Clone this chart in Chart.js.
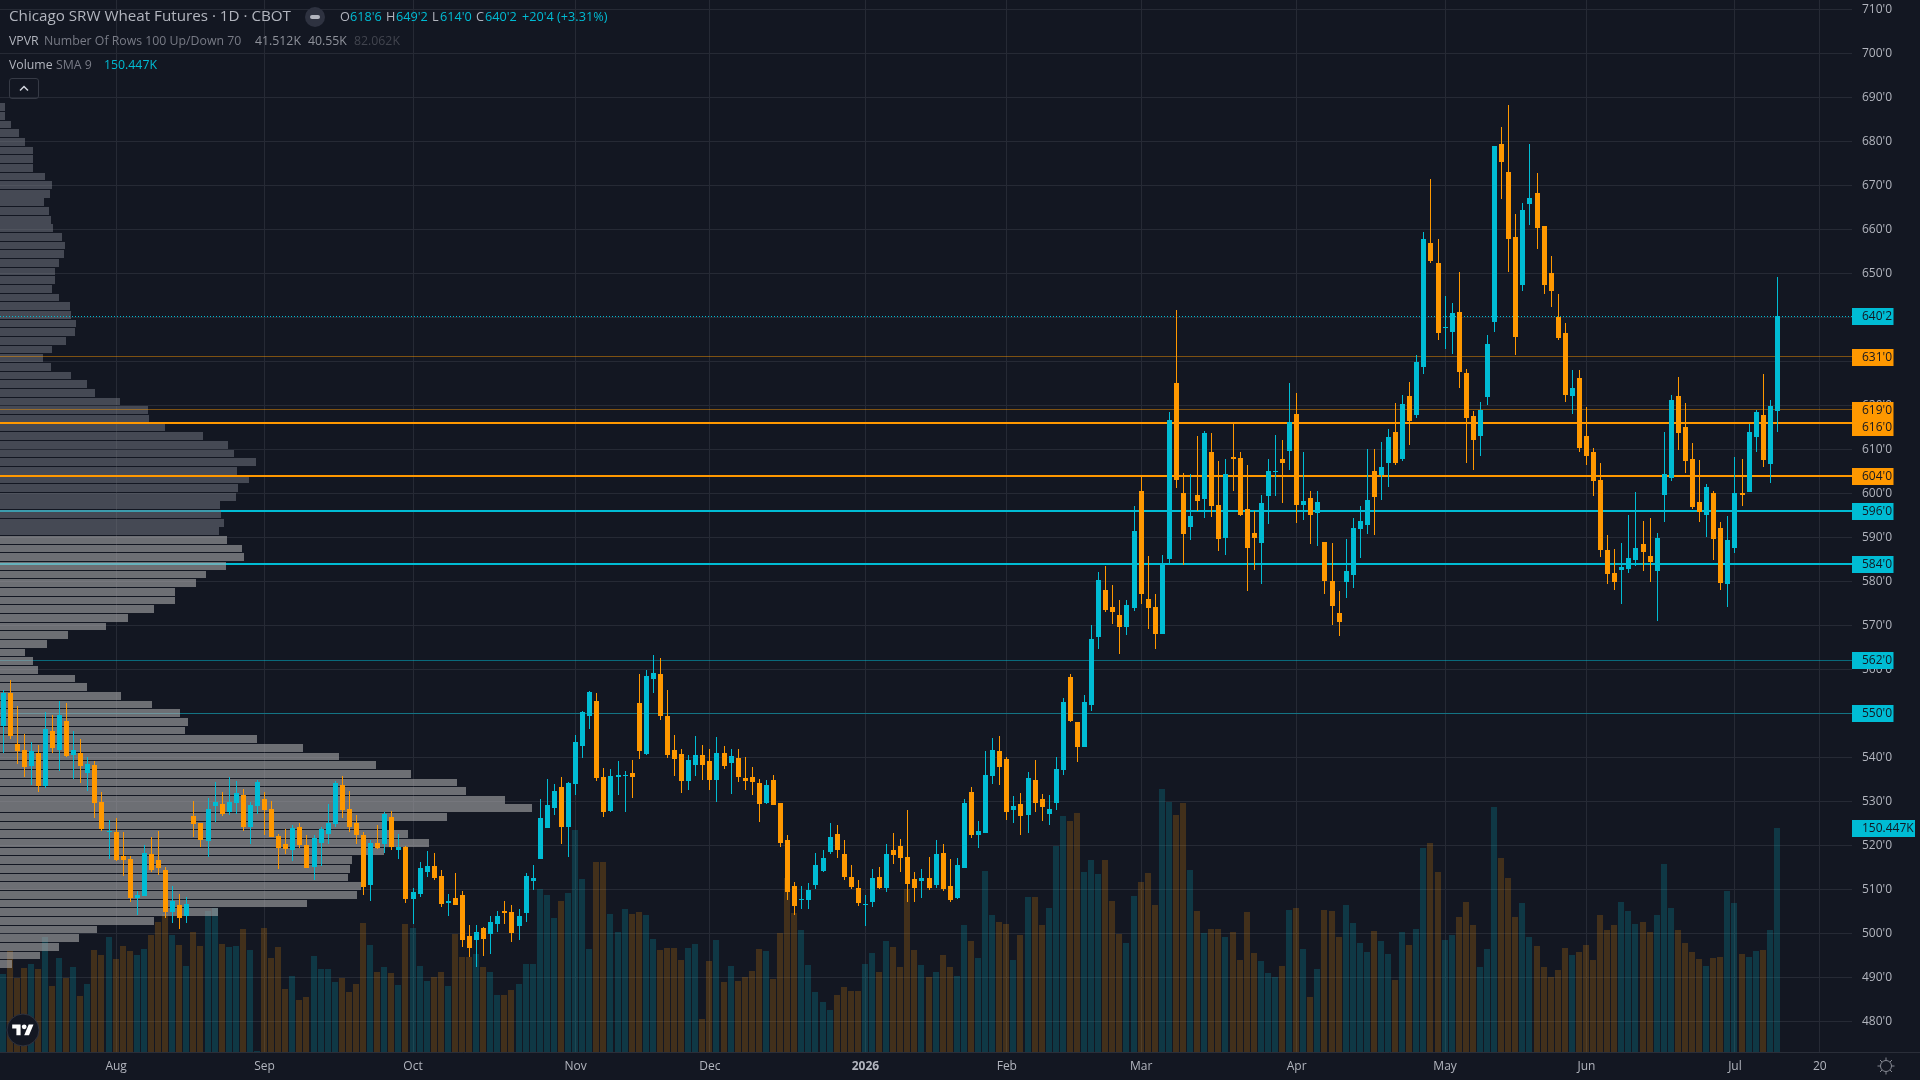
<!DOCTYPE html>
<html>
<head>
<meta charset="utf-8">
<title>Chicago SRW Wheat Futures</title>
<script src="https://cdn.jsdelivr.net/npm/chart.js@4"></script>
<style>
html, body { margin: 0; padding: 0; width: 1920px; height: 1080px; overflow: hidden; background: #131722; }
canvas { position: absolute; left: 0; top: 0; }
#legend span { position: absolute; white-space: nowrap; line-height: 18px; font-family: "Open Sans", sans-serif; }
.r1 { top: 7px; font-size: 12.7px; }
.r2 { top: 32px; font-size: 12.3px; }
.r3 { top: 56px; font-size: 12.3px; }
.lab { color: #b2b5be; }
.dim { color: #787b86; }
.val { color: #00bcd4; }
.num { color: #8f929b; }
.off { color: #42454f; }
#btn { position: absolute; left: 9px; top: 78px; width: 28px; height: 19px; border: 1px solid #363a45; border-radius: 3px; }
#badge { position: absolute; left: 305px; top: 7px; width: 20px; height: 20px; border-radius: 50%; background: #2e3240; }
#badge i { position: absolute; left: 5px; top: 8px; width: 10px; height: 4px; border-radius: 2px; background: #b2b5be; }
svg { position: absolute; }
</style>
</head>
<body>
<canvas id="wheatChart" width="1920" height="1080"></canvas>

<div id="legend">
  <span class="r1 lab" style="left:9px;font-size:15.2px;top:6px">Chicago SRW Wheat Futures · 1D · CBOT</span>
  <div id="badge"><i></i></div>
  <span class="r1 lab" style="left:340px">O</span><span class="r1 val" style="left:350px">618'6</span>
  <span class="r1 lab" style="left:386px">H</span><span class="r1 val" style="left:396px">649'2</span>
  <span class="r1 lab" style="left:432px">L</span><span class="r1 val" style="left:440px">614'0</span>
  <span class="r1 lab" style="left:476px">C</span><span class="r1 val" style="left:485px">640'2</span>
  <span class="r1 val" style="left:522px">+20'4 (+3.31%)</span>
  <span class="r2 lab" style="left:9px">VPVR</span>
  <span class="r2 dim" style="left:44px">Number Of Rows 100 Up/Down 70</span>
  <span class="r2 num" style="left:255px">41.512K</span>
  <span class="r2 num" style="left:308px">40.55K</span>
  <span class="r2 off" style="left:354px">82.062K</span>
  <span class="r3 lab" style="left:9px">Volume</span>
  <span class="r3 dim" style="left:56px">SMA 9</span>
  <span class="r3 val" style="left:104px">150.447K</span>
  <div id="btn"><svg width="28" height="19" viewBox="0 0 28 19"><path d="M10 11.5l4-4 4 4" fill="none" stroke="#d1d4dc" stroke-width="1.5"/></svg></div>
</div>

<svg style="left:6px;top:1013px" width="34" height="34" viewBox="0 0 34 34">
  <circle cx="17" cy="17" r="16" fill="#131722" stroke="#2e3240" stroke-width="1"/>
  <g transform="translate(6.2,9) scale(0.6)" fill="#ffffff">
    <path d="M14 22H7V11H0V4h14v18zM28 22h-8l7.5-18h8L28 22z"/>
    <circle cx="20" cy="8" r="4"/>
  </g>
</svg>
<svg style="left:1876px;top:1056px" width="20" height="20" viewBox="0 0 20 20" fill="none" stroke="#868993" stroke-width="1">
  <circle cx="10" cy="10" r="5.5"/>
  <path d="M10 1.5v3M10 15.5v3M1.5 10h3M15.5 10h3M4 4l2 2M14 14l2 2M4 16l2-2M14 6l2-2"/>
</svg>

<script>
// daily bars, oldest first
const opens = [
547,554.6,543,541.6,538,541,533.5,546,541.6,548.2,
540.5,541,536.4,538.2,529.8,523,523,517.6,516.9,508,
508.5,518,516.6,514.4,504.8,506.4,503.9,526.6,525,521,
528.9,529.4,527.6,529.6,531.4,524.1,528.9,530.5,528.2,522.1,
520.3,518.9,524.1,520,515,520.6,522.6,524.9,533.7,528.3,
525,522.4,511,520.5,520.3,526.4,519,519.6,507.8,508.9,
513.9,515.3,513,506.9,508,508.7,499.4,498.5,501.2,499.9,
502.1,505,504.9,501.7,504.6,511.9,516.9,523.9,528.5,533.3,
524.2,533.9,542.6,549.4,552.8,535.5,527.8,535.5,535.8,536.4,
552.4,540.8,557.8,558.9,549.4,541.7,540.8,534.6,538.3,540.5,
539.2,534.9,541,538.7,539.9,535.3,535.5,534.2,529.6,534.9,
529.6,521.2,510.8,507.6,507.6,511,514.2,518.5,522.6,518,
512.8,510.3,506.4,507.1,512.8,510.3,519,519.9,517.4,512.4,
511.9,512.6,511,518.3,510.8,508,514.8,532.1,522.3,522.9,
535.7,541.4,539.6,528,529.4,526.9,534.8,530.5,527.1,529.6,
537.1,558.2,548,542.3,551.9,567.3,578,574.1,572.3,569.6,
573.9,600.5,575.9,574.1,568,585,625,600,592.3,599.6,
598.7,609.4,597.3,589.8,608.2,608,596.4,590.9,588.7,599.4,
604.8,607.8,609.6,618,597.3,598.9,595.5,588.9,580,572.8,
579.8,581.4,591.9,592.8,605.1,604.2,606.9,613.9,607.8,622.1,
617.8,628.7,656.9,652.4,637.6,636.7,641.2,627.4,617.6,613,
621.9,638.9,679.4,673,658.3,647.4,665.8,668.3,660.8,650.1,
640.1,636.4,622.1,626.2,613,609.4,603,587.1,581.9,582.5,
582.8,584.8,588.5,585.7,582.3,599.6,603.5,622.1,615,607.8,
598,595,600,592.1,579.4,587.5,600,600.3,612.8,617.8,
606.6,618.75];

const closes = [
554.6,544.8,541.4,537.8,541.4,533.5,546.4,542.1,549.6,540.3,
541.6,538,538.5,529.6,523.7,523.2,516.6,516.6,508,508.7,
518.2,514.4,514.8,504.8,507.3,503.5,506.6,524.8,521.2,528.2,
529.8,527.1,529.8,531.9,524.1,529.1,534.4,528,521.9,519.4,
519.1,523.9,520,514.8,521.6,523.6,525,534.2,528,524.2,
522.4,510.5,520.5,519.4,527.1,519.6,519.6,507.8,509.4,514.9,
515.3,512.6,506.7,507.4,506.4,498.5,496.7,500.3,498.7,502.6,
503.9,504.6,500.1,503.9,513,512.6,526.2,529.2,532.4,524.2,
534.2,543.5,550.3,554.9,535.3,527.6,535.8,536,536,535.5,
541.4,558.5,559.2,549.4,540.5,539.6,534.6,539.4,540.5,538.3,
534.9,541,538,540.3,535.5,534.6,534.4,529.4,533.7,529.2,
520.5,509.4,506.2,507.8,509.9,515.5,517.1,521.9,519,512.8,
510.5,506.9,506.7,512.6,510.3,518,517.8,517.1,511.2,510.3,
512.6,510.3,518,510.1,507.6,515.5,529.6,522.3,523.2,536,
541.7,537.8,527.6,528.9,526.7,535.3,529.6,528.7,528.2,537.3,
552.6,548.2,542.3,552.6,566.9,580.3,573.4,573,569.6,574.6,
591.4,577.1,573.9,568,583.7,616.6,603,590.7,594.8,598.2,
613.7,597.1,589.6,604.4,607.8,595,587.5,589.8,597.8,605,
605,606.9,616.2,597.3,598.2,595,598,580,574.4,570.7,
582.3,592.1,593.7,598.5,599.1,606,612.8,606.9,620.3,616.4,
629.9,657.8,652.8,636.4,637.8,641,627.6,617.1,612.1,618.9,
633.9,678.9,675.3,657.8,635.5,664.4,667.1,660.3,647.4,646,
635.3,622.4,624,610.3,608.5,602.8,587.1,581.6,579.8,583.2,
585.3,587.5,586.6,584.4,589.8,604.4,621.2,613.7,607.3,596.9,
595.7,601.4,589.6,579.6,589.4,600,599.6,613.9,618.5,607.5,
619.8,640.25];

const highs = [
555.3,557.6,551.6,545.3,543.5,542.8,550.3,549.6,552.8,552.3,
546,544.1,540,539.1,532.1,525.7,526.2,523,517.6,509.6,
520,521.9,523.2,515,510.7,508.9,508.2,530,525,530.7,
534.4,532.1,535.5,534.6,532.8,529.8,534.8,532.1,530.1,522.6,
523.7,524.6,525,522.3,522.3,524.2,529.4,534.6,535.8,532.4,
526.9,523,521.2,524.6,527.6,527.8,522.6,519.9,510.3,516.2,
518.7,518.3,514.4,508.9,513.7,509.6,501.9,501.9,501.4,503.9,
505,507.4,506.4,505.5,513.7,515.5,530.5,535.1,533.9,535.5,
534.4,545.1,550.5,555.1,554.6,537.6,537.4,539.2,536.9,539.4,
558.9,559.9,563.3,562.6,555.3,545.1,541.9,540.5,544.9,542.8,
541.9,544.6,542.6,541.9,541.9,540.1,537.8,535.1,534.9,536,
529.6,522.4,511.7,510.8,511.4,518.3,519,525.1,524.6,521.2,
515.5,512.1,508.7,514.6,515.1,520.3,522.8,521.4,528,513.9,
514.6,517.4,521.2,520.3,516.9,517.1,530.5,533.2,525.5,541.4,
544.4,544.8,540,531.2,531.9,536.7,539.4,531.7,531.4,540.1,
553.5,558.9,548,554.2,570,582.1,583.4,579.1,575.7,575.7,
597.1,603.7,585.7,577.1,585.9,618.4,641.6,604.6,604.4,613,
614.1,613.7,607.3,607.8,615.7,609.4,606.4,595.9,599.6,607.8,
613.2,612.1,625.1,622.8,609.4,600.5,600.5,588.9,588.7,577.8,
589.6,594.4,597.1,610.1,610.1,611.7,614.6,620.5,622.4,625.3,
631.4,659.4,671.4,657.8,644.9,643.3,650.3,628.3,618.7,620.8,
636,678.9,683.3,688.3,663.5,666,679.4,672.8,660.8,653.9,
645.3,638.7,628,628,619.6,610.3,606.9,590.5,587.3,588.7,
595,600.3,593.7,594.4,591,613.9,622.3,626.4,620.5,611.4,
607.5,602.1,600.5,593.5,594.8,608.2,607.8,615.7,618.9,627.1,
621.2,649.25];

const lows = [
541,544.1,538.5,535.5,533.7,532.1,533,541,536.9,540,
535,534.1,532.3,526.2,523.2,516.9,516.4,513,507.1,504.1,
508.5,513.9,513.2,503.5,502.3,501,502.3,521.9,519.6,517.3,
525.3,526.6,526.9,527.1,523.2,520.3,527.1,522.3,521.9,514.6,
518,516.4,519.4,514.8,512.1,515.3,520.3,524.2,526.2,523,
520.3,508.7,507.4,519.2,518.3,519,516.9,506.9,502.1,508.3,
512.8,512.1,506,504,506.4,496.9,494.6,492.4,494.9,495.3,
500.3,502.1,498,498.5,502.6,509.9,516.9,523.9,526.9,520.3,
517.4,531.4,539.9,546.4,534.6,526.4,527.6,531.4,527.6,530.8,
539.6,540.5,554.6,548.5,539.9,535.8,531.9,532.6,535.8,534.9,
532.6,529.9,537.4,531.7,534.4,532.6,531.4,525.3,529.4,529.2,
519.6,507.6,504.2,505.5,505.5,510.1,513.9,518,517.1,512.1,
510.1,506.2,501.7,506,510.1,509.4,515.8,513.9,507.1,507.1,
508,509.9,510.3,509.6,507.1,507.8,514.8,521.6,519.3,522.9,
533.9,533.7,525.7,525,522.3,522.8,527.6,525.5,524.6,528,
536,548,538.9,542.3,550.5,564.6,573,570.3,563.4,567.8,
573.2,574.8,569.1,564.6,568,583.7,601.2,583.7,589.4,595.9,
594.4,594.6,586.9,585.9,600.5,594.8,577.8,582.5,579.4,593,
599.4,597.8,605.3,593.2,593.9,588.5,588,577.1,570,567.5,
576.2,578.5,585.3,590.7,590.5,598.5,601.4,606.4,607.4,611,
617.1,627.1,652.4,634.9,632.8,631.7,624,606.9,605.3,608.5,
620.1,636.7,666.9,650.3,631.4,646,661,655.5,645.3,642.4,
634.9,620.8,618,609.4,606.4,599.4,585.5,579.4,578,574.8,
581.9,583.5,582.3,579.8,571,593.5,602.8,609.8,604.6,596.4,
593.5,590,584.8,578,574.1,586.4,597.1,600.3,609.4,606,
602.3,614];

// volume in thousands
const volumes = [
52.5,68,49.9,56.6,59.3,55.9,77.4,44.5,63.3,49.9,
57.2,37.8,45.8,68.6,65.3,77.4,62.6,71.3,68,65.3,
69.3,78.7,87.4,92.8,78.7,72,57.9,80.7,71.3,94.8,
96.8,72.7,70.7,71.3,82.7,68.6,0.9,83.4,63.3,70.7,
42.5,51.2,35.1,37.1,64.6,55.9,55.9,47.2,49.9,40.5,
45.8,86.8,72,53.9,57.2,53.2,45.2,86.1,83.4,57.9,
47.9,50.5,53.9,44.5,79.4,64,64,66,57.2,53.9,
38.5,38.5,41.8,45.8,59.3,59.3,109.6,105.5,90.1,101.5,
106.9,149.1,116.3,69.3,127.7,127.7,92.8,80.7,96.1,92.8,
94.1,92.1,76,68.6,70,70,61.9,70,72.7,22.4,
61.3,75.4,47.2,57.9,47.9,50.5,54.6,69.3,68,49.2,
80,116.9,93.5,82.1,58.6,40.5,33.8,28.4,38.5,43.8,
41.1,41.1,59.3,66.6,53.9,74.7,70.7,57.2,109.6,68.6,
58.6,50.5,53.9,65.3,57.2,51.2,85.4,74.7,63.3,121.6,
92.1,87.4,86.1,61.9,78.7,104.2,104.2,85.4,96.8,138.4,
158.5,155.2,160.5,121,129,119.6,129,101.5,79.4,73.3,
104.9,114.3,120.3,98.8,176.6,167.9,159.2,167.3,122.3,94.8,
80,82.7,82.7,77.4,80.7,61.9,94.1,66.6,61.3,53.2,
50.5,57.9,95.5,96.8,69.3,37.1,55.9,95.5,94.8,77.4,
98.8,86.8,73.3,67.3,81.4,74.7,66,48.5,80.7,72,
82.7,137.1,140.4,121,75.4,78.7,90.8,100.8,85.4,57.2,
69.3,164.6,130.4,116.9,90.8,100.2,77.4,71.3,57.2,50.5,
55.2,70,65.3,67.3,72,61.9,92.1,82.1,85.4,100.8,
94.8,86.1,87.4,80.7,92.1,126.3,96.8,82.1,73.3,67.3,
62.6,57.9,63.3,63.9,108.2,100.2,66,63.9,68,68.6,
82.1,150.447];

// volume profile rows, top row first
const profileRows = [
5,5,11,19,25,33,33,33,45,52,50,44,49,51,53,62,65,64,59,55,
55,52,59,70,71,76,75,66,52,43,51,71,87,95,120,148,149,165,203,228,
234,256,237,249,238,236,220,221,224,219,227,242,244,226,206,196,175,175,154,128,
106,68,47,25,33,38,75,87,121,152,180,188,185,257,303,339,376,411,457,466,
505,532,447,383,408,429,384,352,350,348,361,357,307,218,154,97,79,59,40,12];
const profileTop = 688.75;
const profileBottom = 492;
const valueAreaStart = 50;

const priceTicks = [480,490,500,510,520,530,540,550,560,570,580,590,600,610,620,630,640,650,660,670,680,690,700,710];
const timeTicks = [16,37,58,81,100,122,142,161,183,204,224,245,257];
const timeLabels = ["Aug","Sep","Oct","Nov","Dec","2026","Feb","Mar","Apr","May","Jun","Jul","20"];

// horizontal levels
const orangeMajor = [616,604];
const orangeMinor = [631,619];
const cyanMajor = [596,584];
const cyanMinor = [562,550];
const lastPrice = 640.25;
const lastVolume = 150.447;

const CYAN = '#00bcd4';
const ORANGE = '#ff9800';
const PANEL = '#131722';
const FONT = '"Open Sans", sans-serif';

const xMin = -0.4272, xMax = 261.56;
const isUp = i => closes[i] >= opens[i];
const idx = opens.map((_, i) => i);
const rowStep = (profileTop - profileBottom) / profileRows.length;

function levelSet(v, color, width, order, dash) {
    return {
        type: 'line', data: [{x: xMin, y: v}, {x: xMax, y: v}],
        borderColor: color, borderWidth: width, borderDash: dash || [],
        pointRadius: 0, order: order, xAxisID: 'x', yAxisID: 'y'
    };
}

function fmtPrice(v) {
    const whole = Math.floor(v);
    return whole + "'" + Math.round((v - whole) * 8);
}

// TV-style bars sit on whole pixels, so nudge the laid out elements
const snapBars = {
    id: 'snapBars',
    afterDatasetsUpdate(chart) {
        chart.getSortedVisibleDatasetMetas().forEach(meta => {
            if (meta.type === 'line') {
                const odd = chart.data.datasets[meta.index].borderWidth % 2 === 1;
                meta.data.forEach(p => { p.y = Math.round(p.y - (odd ? .5 : 0)) + (odd ? .5 : 0); });
                return;
            }
            meta.data.forEach(el => {
                if (el.horizontal) {
                    const t = Math.round(el.y - 3.85), b = Math.round(el.y + 3.85);
                    el.y = (t + b) / 2;
                    el.height = b - t;
                    el.x = Math.round(el.x);
                } else {
                    const odd = Math.round(el.width) % 2 === 1;
                    el.x = Math.floor(el.x) + (odd ? .5 : 0);
                    el.y = Math.round(el.y);
                    el.base = Math.round(el.base);
                    if (el.y === el.base) el.base = el.y + 1;
                }
            });
        });
    }
};

// price tags in the right axis
const priceTags = {
    id: 'priceTags',
    afterDraw(chart) {
        const c = chart.ctx, y = chart.scales.y, area = chart.chartArea;
        const tags = [
            ...orangeMinor.concat(orangeMajor).map(v => ({v, fill: ORANGE, text: v + "'0"})),
            ...cyanMajor.concat(cyanMinor).map(v => ({v, fill: CYAN, text: v + "'0"})),
            {v: lastPrice, fill: CYAN, text: fmtPrice(lastPrice)}
        ].sort((a, b) => b.v - a.v);
        c.save();
        c.font = '12px ' + FONT;
        c.textBaseline = 'middle';
        let prev = -100;
        tags.forEach(t => {
            let top = Math.round(y.getPixelForValue(t.v) - 8);
            if (top - prev < 17) top = prev + 17;
            prev = top;
            c.fillStyle = t.fill;
            c.fillRect(area.right, top, 41.5, 17);
            c.fillStyle = PANEL;
            c.fillText(t.text, area.right + 10, top + 9);
        });
        const vTop = Math.round(chart.scales.yVol.getPixelForValue(lastVolume) - 8);
        c.fillStyle = CYAN;
        c.fillRect(area.right, vTop, 63, 17);
        c.fillStyle = PANEL;
        c.fillText(lastVolume.toFixed(3) + 'K', area.right + 10, vTop + 9);
        c.strokeStyle = '#2a2e39';
        c.beginPath();
        c.moveTo(area.right, area.bottom + .5);
        c.lineTo(1920, area.bottom + .5);
        c.stroke();
        c.restore();
    }
};

new Chart(document.getElementById('wheatChart'), {
    data: {
        datasets: [
            {
                type: 'bar', label: 'Volume', order: 9, yAxisID: 'yVol', xAxisID: 'x',
                data: idx.map(i => ({x: i, y: volumes[i]})),
                backgroundColor: idx.map(i => isUp(i) ? 'rgba(0,188,212,0.2)' : 'rgba(255,152,0,0.2)'),
                grouped: false, barThickness: 6, maxBarThickness: 6, inflateAmount: 0
            },
            levelSet(cyanMinor[0], 'rgba(0,188,212,0.5)', 1, 8),
            levelSet(cyanMinor[1], 'rgba(0,188,212,0.5)', 1, 8),
            levelSet(cyanMajor[0], CYAN, 2, 8),
            levelSet(cyanMajor[1], CYAN, 2, 8),
            {
                type: 'bar', label: 'VPVR', order: 7, indexAxis: 'y', xAxisID: 'xProfile', yAxisID: 'yProfile',
                data: profileRows.map((w, k) => ({x: w, y: profileTop - (k + .5) * rowStep})),
                backgroundColor: profileRows.map((w, k) => k < valueAreaStart ? 'rgba(120,123,134,0.5)' : 'rgba(170,170,172,0.6)'),
                grouped: false, barThickness: 8, maxBarThickness: 8, inflateAmount: 0
            },
            levelSet(orangeMinor[0], 'rgba(255,152,0,0.45)', 1, 6),
            levelSet(orangeMinor[1], 'rgba(255,152,0,0.45)', 1, 6),
            levelSet(orangeMajor[0], ORANGE, 2, 6),
            levelSet(orangeMajor[1], ORANGE, 2, 6),
            levelSet(lastPrice, CYAN, 1, 5, [1, 2]),
            {
                type: 'bar', label: 'Wicks', order: 2, xAxisID: 'x', yAxisID: 'y',
                data: idx.map(i => ({x: i, y: [lows[i], highs[i]]})),
                backgroundColor: idx.map(i => isUp(i) ? CYAN : ORANGE),
                grouped: false, barThickness: 1, maxBarThickness: 1, inflateAmount: 0
            },
            {
                type: 'bar', label: 'Bodies', order: 1, xAxisID: 'x', yAxisID: 'y',
                data: idx.map(i => ({x: i, y: [opens[i], closes[i]]})),
                backgroundColor: idx.map(i => isUp(i) ? CYAN : ORANGE),
                grouped: false, barThickness: 5, maxBarThickness: 5, inflateAmount: 0
            }
        ]
    },
    options: {
        responsive: false,
        animation: false,
        events: [],
        layout: {padding: 0},
        plugins: {legend: {display: false}, tooltip: {enabled: false}, title: {display: false}},
        scales: {
            x: {
                type: 'linear', position: 'bottom', min: xMin, max: xMax, offset: false,
                grid: {color: '#262a35', drawTicks: false, offset: false},
                border: {display: true, color: '#2a2e39'},
                ticks: {
                    autoSkip: false, maxRotation: 0, padding: 7, color: '#b2b5be',
                    font: ctx => ({family: FONT, size: 12, weight: ctx.tick && ctx.tick.value === 122 ? 'bold' : 'normal'}),
                    callback: v => timeLabels[timeTicks.indexOf(v)]
                },
                afterBuildTicks: s => { s.ticks = timeTicks.map(v => ({value: v})); },
                afterFit: s => { s.height = 28; s.paddingLeft = 0; s.paddingRight = 0; }
            },
            y: {
                type: 'linear', position: 'right', min: 473.02, max: 712.11, offset: false,
                grid: {color: '#262a35', drawTicks: false},
                border: {display: false},
                ticks: {
                    autoSkip: false, padding: 10, color: '#b2b5be',
                    font: {family: FONT, size: 12},
                    callback: v => v + "'0"
                },
                afterBuildTicks: s => { s.ticks = priceTicks.map(v => ({value: v})); },
                afterFit: s => { s.width = 68; s.paddingTop = 0; s.paddingBottom = 0; }
            },
            yVol: {type: 'linear', display: false, min: 0, max: 705.7, offset: false},
            yProfile: {type: 'linear', display: false, min: 473.02, max: 712.11, offset: false},
            xProfile: {type: 'linear', display: false, min: 0, max: 1852, offset: false}
        }
    },
    plugins: [snapBars, priceTags]
});
</script>
</body>
</html>
